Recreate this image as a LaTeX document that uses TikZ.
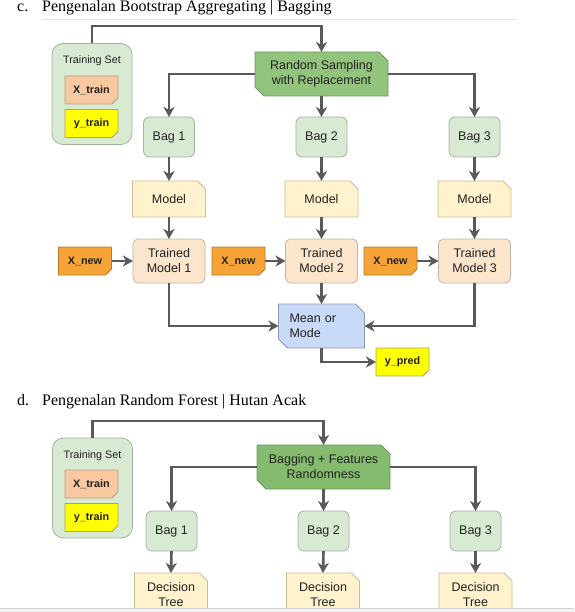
\documentclass[tikz,border=0pt]{standalone}
\usepackage{fontspec}
\setmainfont{Liberation Serif}
\newfontfamily\arialf{Liberation Sans}
\usetikzlibrary{shapes.misc,arrows.meta}
\definecolor{txt}{HTML}{222222}
\definecolor{bagfill}{HTML}{D9EAD3}
\definecolor{bagline}{HTML}{A3B39F}
\definecolor{randfill}{HTML}{93C47D}
\definecolor{randline}{HTML}{6E975E}
\definecolor{bagfillB}{HTML}{85BB6E}
\definecolor{modfill}{HTML}{FFF2CC}
\definecolor{modline}{HTML}{CBBC92}
\definecolor{trfill}{HTML}{FCE5CD}
\definecolor{trline}{HTML}{C5B4A2}
\definecolor{xtrfill}{HTML}{F8C8A0}
\definecolor{xtrline}{HTML}{B59C86}
\definecolor{xnewfill}{HTML}{F7A436}
\definecolor{xnewline}{HTML}{B27B2E}
\definecolor{yfill}{HTML}{FFFF00}
\definecolor{yline}{HTML}{A9A95C}
\definecolor{meanfill}{HTML}{C9DAF8}
\definecolor{meanline}{HTML}{8B9BB7}
\definecolor{conncol}{HTML}{595959}
\definecolor{rulecol}{HTML}{E2E2E2}
\definecolor{stripfill}{HTML}{F2F2F2}
\definecolor{stripline}{HTML}{D2D2D2}
\begin{document}
\begin{tikzpicture}[x=1pt,y=-1pt,
  base/.style={inner sep=0pt, outer sep=0pt, line width=0.8pt, text=txt, align=center,
    font=\arialf\fontsize{12.5}{15}\selectfont},
  bagbox/.style={base, rectangle, rounded corners=6pt, fill=bagfill, draw=bagline,
    minimum width=51pt, minimum height=40pt},
  tsbox/.style={bagbox, rounded corners=11pt, minimum width=80pt, minimum height=101pt},
  tslabel/.style={base, font=\arialf\fontsize{10.8}{13}\selectfont},
  randbox/.style={base, chamfered rectangle, chamfered rectangle corners={north east,south west},
    chamfered rectangle xsep=4.5pt, chamfered rectangle ysep=4.5pt, fill=randfill, draw=randline,
    minimum width=133pt, minimum height=44pt},
  modelbox/.style={base, chamfered rectangle, chamfered rectangle corners=north east,
    chamfered rectangle xsep=4pt, chamfered rectangle ysep=4pt, fill=modfill, draw=modline,
    minimum width=73pt, minimum height=36pt},
  trainedbox/.style={base, rectangle, rounded corners=5pt, fill=trfill, draw=trline,
    minimum width=72pt, minimum height=44pt},
  notebox/.style={base, chamfered rectangle, chamfered rectangle corners=south east,
    chamfered rectangle xsep=3pt, chamfered rectangle ysep=3pt,
    minimum width=53pt, minimum height=28pt, font=\arialf\bfseries\fontsize{10.8}{13}\selectfont},
  meanbox/.style={base, chamfered rectangle, chamfered rectangle corners={north east,south west},
    chamfered rectangle xsep=4.5pt, chamfered rectangle ysep=4.5pt, fill=meanfill, draw=meanline,
    minimum width=86pt, minimum height=44pt, text width=64pt, align=left},
  conn/.style={draw=conncol, line width=2.6pt, -{Stealth[length=10pt,width=11pt,inset=3pt]}},
  title/.style={anchor=base west, inner sep=0pt, font=\fontsize{16}{19}\selectfont}
]
\useasboundingbox (0,0) rectangle (574,612);
\fill[white] (0,0) rectangle (574,612);

% ---------- titles ----------
\node[title] (tcl) at (17,12) {c.};
\node[title] (tct) at (42,12) {Pengenalan Bootstrap Aggregating | Bagging};
\draw[rulecol, line width=0.8pt] (42,19) -- (517,19);
\node[title] (tdl) at (17,405) {d.};
\node[title] (tdt) at (42,405) {Pengenalan Random Forest | Hutan Acak};

% ---------- diagram 1 ----------
\node[tsbox] (ts1) at (92,94) {};
\node[tslabel] (ts1l) at (92,61) {Training Set};
\node[notebox, fill=xtrfill, draw=xtrline] (xtr1) at (91.5,90) {X\_train};
\node[notebox, fill=yfill, draw=yline] (ytr1) at (91.5,123.5) {y\_train};
\node[randbox] (rs) at (321.5,74) {Random Sampling\\with Replacement};
\node[bagbox] (b11) at (169,137) {Bag 1};
\node[bagbox] (b12) at (321.5,137) {Bag 2};
\node[bagbox] (b13) at (474.5,137) {Bag 3};
\node[modelbox] (m11) at (169,199) {Model};
\node[modelbox] (m12) at (321.5,199) {Model};
\node[modelbox] (m13) at (474.5,199) {Model};
\node[trainedbox] (t11) at (169,261) {Trained\\Model 1};
\node[trainedbox] (t12) at (321.5,261) {Trained\\Model 2};
\node[trainedbox] (t13) at (474.5,261) {Trained\\Model 3};
\node[notebox, fill=xnewfill, draw=xnewline] (xn1) at (85,261) {X\_new};
\node[notebox, fill=xnewfill, draw=xnewline] (xn2) at (238.5,261) {X\_new};
\node[notebox, fill=xnewfill, draw=xnewline] (xn3) at (390.5,261) {X\_new};
\node[meanbox] (mean) at (321.5,326) {Mean or\\Mode};
\node[notebox, fill=yfill, draw=yline] (yp) at (402.5,362) {y\_pred};
\coordinate (top1) at (0,26);

\draw[conn] (ts1.north) |- (rs.north |- top1) -- (rs.north);
\draw[conn] (rs.west) -| (b11.north);
\draw[conn] (rs.south) -- (b12.north);
\draw[conn] (rs.east) -| (b13.north);
\foreach \i in {1,2,3}{
  \draw[conn] (b1\i.south) -- (m1\i.north);
  \draw[conn] (m1\i.south) -- (t1\i.north);
  \draw[conn] (xn\i.east) -- (t1\i.west);
}
\draw[conn] (t11.south) |- (mean.west);
\draw[conn] (t12.south) -- (mean.north);
\draw[conn] (t13.south) |- (mean.east);
\draw[conn] (mean.south) |- (yp.west);

% ---------- diagram 2 ----------
\node[tsbox, minimum height=100pt] (ts2) at (92.5,488) {};
\node[tslabel] (ts2l) at (92.5,456) {Training Set};
\node[notebox, fill=xtrfill, draw=xtrline] (xtr2) at (91.5,484) {X\_train};
\node[notebox, fill=yfill, draw=yline] (ytr2) at (91.5,517.5) {y\_train};
\node[randbox, fill=bagfillB] (bg) at (323.5,467) {Bagging + Features\\Randomness};
\node[bagbox] (b21) at (171.5,531) {Bag 1};
\node[bagbox] (b22) at (323.5,531) {Bag 2};
\node[bagbox] (b23) at (475.5,531) {Bag 3};
\node[modelbox, minimum height=44pt] (d21) at (171,595) {Decision\\Tree};
\node[modelbox, minimum height=44pt] (d22) at (323,595) {Decision\\Tree};
\node[modelbox, minimum height=44pt] (d23) at (475.5,595) {Decision\\Tree};
\coordinate (top2) at (0,421);

\draw[conn] (ts2.north) |- (bg.north |- top2) -- (bg.north);
\draw[conn] (bg.west) -| (b21.north);
\draw[conn] (bg.south) -- (b22.north);
\draw[conn] (bg.east) -| (b23.north);
\foreach \i in {1,2,3}{
  \draw[conn] (b2\i.south) -- (d2\i.north);
}

% ---------- page edge ----------
\fill[stripfill] (0,608) rectangle (574,612);
\draw[stripline, line width=0.8pt] (0,608) -- (574,608);
\end{tikzpicture}
\end{document}
